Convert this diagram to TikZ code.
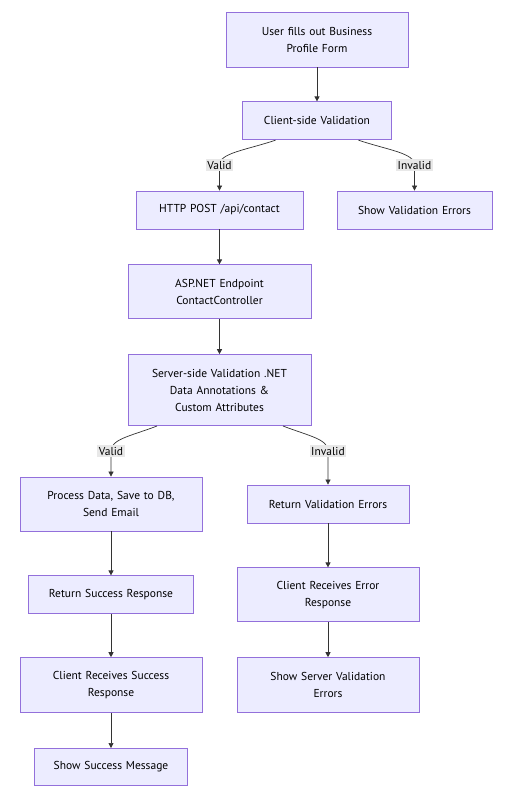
\documentclass[tikz,border=0pt]{standalone}
\usepackage{fontspec}
\setmainfont{PT Sans}
\usetikzlibrary{arrows.meta,positioning}

\definecolor{boxfill}{HTML}{ECECFF}
\definecolor{boxline}{HTML}{9370DB}
\definecolor{edgeline}{HTML}{333333}
\definecolor{lblfill}{HTML}{E8E8E8}

\begin{document}
\begin{tikzpicture}[
  x=1pt, y=1pt,
  box/.style={draw=boxline, fill=boxfill, line width=0.8pt, align=center,
              inner xsep=0pt, inner ysep=0pt, minimum height=38pt,
              font=\fontsize{11.5}{17}\selectfont},
  flow/.style={-{Triangle[length=5pt,width=5pt]}, draw=edgeline, line width=0.7pt},
  lbl/.style={fill=lblfill, inner xsep=1.5pt, inner ysep=2pt,
              font=\fontsize{11.5}{12}\selectfont}
]
  \useasboundingbox (0,0) rectangle (505,-793);

  \node[box, text width=182pt, minimum height=55pt] (user) at (317,-39.5) {User fills out Business\\Profile Form};
  \node[box, text width=149pt, below=34pt of user] (cv) {Client-side Validation};
  \node[box, text width=167pt] (http) at (219.5,-210) {HTTP POST /api/contact};
  \node[box, text width=155pt] (showerr) at (414.5,-210) {Show Validation Errors};
  \node[box, text width=183pt, minimum height=54pt, below=35pt of http] (asp) {ASP.NET Endpoint\\ContactController};
  \node[box, text width=183pt, minimum height=71pt, below=35pt of asp] (server) {Server-side Validation .NET\\Data Annotations \&\\Custom Attributes};
  \node[box, text width=182pt, minimum height=54pt] (process) at (111,-504) {Process Data, Save to DB,\\Send Email};
  \node[box, text width=162pt] (retval) at (328,-504) {Return Validation Errors};
  \node[box, text width=165pt, below=44pt of process] (retsucc) {Return Success Response};
  \node[box, text width=182pt, minimum height=54pt, below=44pt of retval] (recerr) {Client Receives Error\\Response};
  \node[box, text width=182pt, minimum height=55pt, below=43pt of retsucc] (recsucc) {Client Receives Success\\Response};
  \node[box, text width=182pt, minimum height=55pt, below=35pt of recerr] (showsrv) {Show Server Validation\\Errors};
  \node[box, text width=153pt, minimum height=37pt, below=35pt of recsucc] (showmsg) {Show Success Message};

  \draw[flow] (user) -- (cv);
  \draw[flow] ([xshift=-41.5pt]cv.south) .. controls +(-30,-10) and +(0,12) .. (http.north |- 0,-165)
    -- node[lbl, pos=0] {Valid} (http.north);
  \draw[flow] ([xshift=41.5pt]cv.south) .. controls +(30,-10) and +(0,12) .. (showerr.north |- 0,-165)
    -- node[lbl, pos=0] {Invalid} (showerr.north);
  \draw[flow] (http) -- (asp);
  \draw[flow] (asp) -- (server);
  \draw[flow] ([xshift=-62.5pt]server.south) .. controls +(-26,-10) and +(0,12) .. (process.north |- 0,-451)
    -- node[lbl, pos=0] {Valid} (process.north);
  \draw[flow] ([xshift=63.5pt]server.south) .. controls +(26,-10) and +(0,12) .. (retval.north |- 0,-451)
    -- node[lbl, pos=0] {Invalid} (retval.north);
  \draw[flow] (process) -- (retsucc);
  \draw[flow] (retsucc) -- (recsucc);
  \draw[flow] (recsucc) -- (showmsg);
  \draw[flow] (retval) -- (recerr);
  \draw[flow] (recerr) -- (showsrv);
\end{tikzpicture}
\end{document}
